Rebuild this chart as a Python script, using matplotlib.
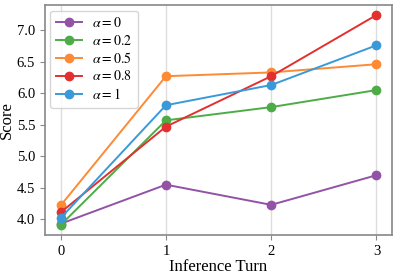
import matplotlib
matplotlib.use('Agg')
from matplotlib import pyplot as plt

turns = [0, 1, 2, 3]
alpha_labels = [r'$\alpha=0$', r'$\alpha=0.2$', r'$\alpha=0.5$', r'$\alpha=0.8$', r'$\alpha=1$']
score_a0 = [3.93, 4.55, 4.23, 4.70]
score_a02 = [3.91, 5.57, 5.78, 6.05]
score_a05 = [4.22, 6.27, 6.33, 6.46]
score_a08 = [4.11, 5.47, 6.27, 7.24]
score_a1 = [4.02, 5.81, 6.13, 6.76]
colors = ['#9352a6', '#4eac48', '#fd8a34', '#e3302f', '#3a9ad9']

plt.rcParams['font.family'] = ['Liberation Serif', 'DejaVu Serif']
plt.rcParams['mathtext.fontset'] = 'stix'

fig, ax = plt.subplots(figsize=(3.97, 2.75), dpi=100)
series = [score_a0, score_a02, score_a05, score_a08, score_a1]
for vals, lab, c in zip(series, alpha_labels, colors):
    ax.plot(turns, vals, marker='o', markersize=6, linewidth=1.4, color=c, label=lab)

ax.set_xticks(turns)
ax.set_yticks([4.0, 4.5, 5.0, 5.5, 6.0, 6.5, 7.0])
ax.set_ylim(3.75, 7.4)
ax.grid(axis='x', color='#dddddd', linewidth=1)
ax.set_axisbelow(True)
for s in ax.spines.values():
    s.set_color('#888888')
    s.set_linewidth(1.2)
ax.tick_params(labelsize=10.5, color='#888888', length=3.5)
ax.set_xlabel('Inference Turn', fontsize=12, labelpad=0.5)
ax.set_ylabel('Score', fontsize=12)
ax.yaxis.set_label_coords(-0.086, 0.5)
ax.legend(loc='upper left', fontsize=10, handlelength=1.9, labelspacing=0.25,
          handletextpad=0.7, borderaxespad=0.4)

fig.subplots_adjust(left=0.113, right=0.988, top=0.982, bottom=0.145)
fig.savefig('out.png')
